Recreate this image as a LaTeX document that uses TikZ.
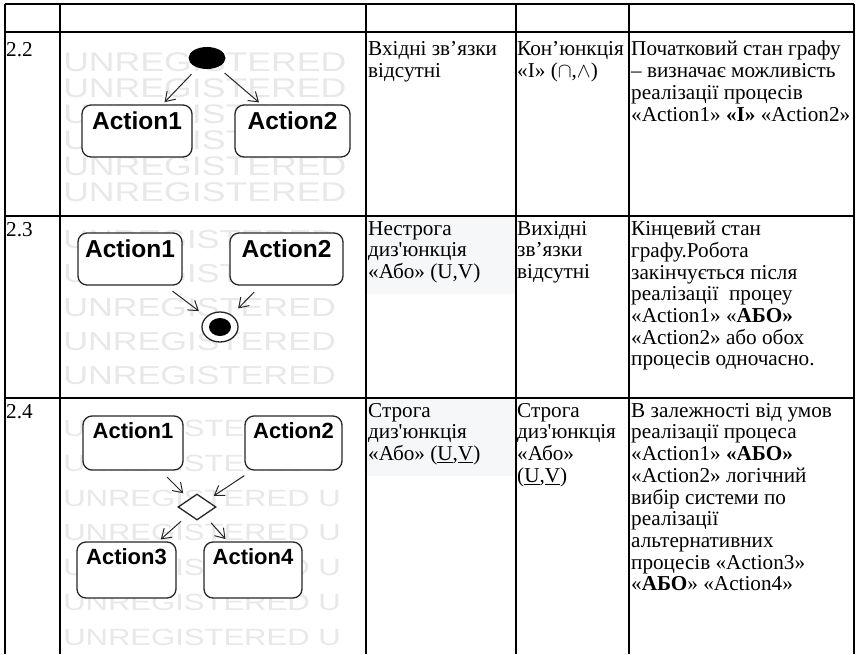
\documentclass[tikz,border=0pt]{standalone}
\usepackage{fontspec}
\setmainfont{Liberation Serif}
\newfontfamily\umlfont{Liberation Sans}
\usetikzlibrary{arrows.meta}
\usetikzlibrary{shapes.geometric}

\definecolor{wmgray}{gray}{0.91}
\definecolor{cellshade}{RGB}{246,247,248}
\definecolor{umlgray}{gray}{0.15}

\tikzset{
  gridline/.style={line width=2.2pt},
  celltext/.style={anchor=north west,align=left,inner sep=0pt,
    font=\fontsize{21.2}{21.7}\selectfont,execute at begin node=\strut},
  wmark/.style={anchor=west,inner sep=0pt,text=wmgray,xscale=1.32,
    font=\umlfont\fontsize{#1}{#1}\selectfont},
  acttext/.style={font=\umlfont\bfseries\fontsize{24.5}{24.5}\selectfont},
  actbox/.style={draw=umlgray,line width=1.3pt,fill=white,rounded corners=9pt,
    inner sep=0pt,label={[acttext,anchor=north,inner sep=0pt,yshift=-7pt]north:#1}},
  flow/.style={draw=umlgray,line width=1pt,-{Straight Barb[length=9pt,width=12pt]},
    shorten <=9pt,shorten >=3pt},
  startdot/.style={ellipse,fill=black,inner sep=0pt,minimum width=37pt,minimum height=22pt},
  endring/.style={ellipse,draw=umlgray,line width=1.3pt,fill=white,inner sep=0pt,
    minimum width=36pt,minimum height=30pt},
  enddot/.style={ellipse,fill=black,inner sep=0pt,minimum width=22pt,minimum height=18pt},
  choice/.style={diamond,draw=umlgray,line width=1.3pt,fill=white,inner sep=0pt,
    minimum width=38pt,minimum height=26pt}
}

\begin{document}
\begin{tikzpicture}[x=1pt,y=-1pt]
  \useasboundingbox (0,0) rectangle (860,654);

  % shaded cells
  \fill[cellshade] (366,216) rectangle (515,294);
  \fill[cellshade] (366,398) rectangle (515,476);

  % watermarks of the pasted pictures
  \foreach \y [count=\i] in {62,88,114,140,166,192}
    \node[wmark=27] (wma\i) at (63,\y) {UNREGISTERED};
  \foreach \y [count=\i] in {240,274,308,342,376}
    \node[wmark=26] (wmb\i) at (63,\y) {UNREGISTERED};
  \foreach \y [count=\i] in {428,463,498,532,567,602,637}
    \node[wmark=23.5] (wmc\i) at (63,\y) {UNREGISTERED U};

  % 2.2
  \node[startdot] (init) at (207,58) {};
  \node[actbox=Action1,minimum width=110pt,minimum height=52pt] (a1) at (137,131) {};
  \node[actbox=Action2,minimum width=115pt,minimum height=52pt] (a2) at (292.5,131) {};
  \draw[flow] (init) -- (a1);
  \draw[flow] (init) -- (a2);

  % 2.3
  \node[actbox=Action1,minimum width=104pt,minimum height=52pt] (b1) at (130,259) {};
  \node[actbox=Action2,minimum width=113pt,minimum height=52pt] (b2) at (286.5,259) {};
  \node[endring] (fin) at (220,327) {};
  \node[enddot] (findot) at (fin) {};
  \draw[flow,shorten >=9pt] (b1) -- (fin);
  \draw[flow,shorten >=9pt] (b2) -- (fin);

  % 2.4
  \begin{scope}[acttext/.style={font=\umlfont\bfseries\fontsize{22}{22}\selectfont}]
    \node[actbox=Action1,minimum width=100pt,minimum height=54pt] (c1) at (133,443) {};
    \node[actbox=Action2,minimum width=97pt,minimum height=54pt] (c2) at (293.5,443) {};
    \node[choice] (dec) at (197,507) {};
    \node[actbox=Action3,minimum width=99pt,minimum height=56pt] (c3) at (126.5,570) {};
    \node[actbox=Action4,minimum width=98pt,minimum height=56pt] (c4) at (253,570) {};
  \end{scope}
  \draw[flow,shorten >=8pt] (c1) -- (dec);
  \draw[flow,shorten >=8pt] (c2) -- (dec);
  \draw[flow,shorten <=10pt] (dec) -- (c3);
  \draw[flow,shorten <=10pt] (dec) -- (c4);

  % table text
  \node[celltext] (n22) at (6,41) {2.2};
  \node[celltext] (in22) at (368,41) {Вхідні зв’язки\\відсутні};
  \node[celltext] (out22) at (517,41) {Кон’юнкція\\«І» ($\cap$,$\wedge$)};
  \node[celltext] (note22) at (631,41) {Початковий стан графу\\– визначає можливість\\реалізації процесів\\«Action1» \textbf{«І»} «Action2»};

  \node[celltext] (n23) at (6,221) {2.3};
  \node[celltext] (in23) at (368,221) {Нестрога\\диз\textquotesingle юнкція\\«Або» (U,V)};
  \node[celltext] (out23) at (517,221) {Вихідні\\зв’язки\\відсутні};
  \node[celltext] (note23) at (631,221) {Кінцевий стан\\графу.Робота\\закінчується після\\реалізації\ \ процеу\\«Action1» «\textbf{АБО»}\\«Action2» або обох\\процесів одночасно.};

  \node[celltext] (n24) at (6,403) {2.4};
  \node[celltext] (in24) at (368,403) {Строга\\диз\textquotesingle юнкція\\«Або» (\underline{U},\underline{V})};
  \node[celltext] (out24) at (517,403) {Строга\\диз\textquotesingle юнкція\\«Або»\\(\underline{U},\underline{V})};
  \node[celltext] (note24) at (631,403) {В залежності від умов\\реалізації процеса\\«Action1» \textbf{«АБО»}\\«Action2» логічний\\вибір системи по\\реалізації\\альтернативних\\процесів «Action3»\\«\textbf{АБО}» «Action4»};

  % table rules
  \draw[gridline] (5,4) -- (854,4);
  \draw[gridline] (5,32) -- (854,32);
  \draw[gridline] (5,216) -- (854,216);
  \draw[gridline] (5,398) -- (854,398);
  \draw[gridline] (5,4) -- (5,654);
  \draw[gridline] (60,4) -- (60,654);
  \draw[gridline] (366,4) -- (366,654);
  \draw[gridline] (516,4) -- (516,654);
  \draw[gridline] (629,4) -- (629,654);
  \draw[gridline] (854,4) -- (854,654);
\end{tikzpicture}
\end{document}
